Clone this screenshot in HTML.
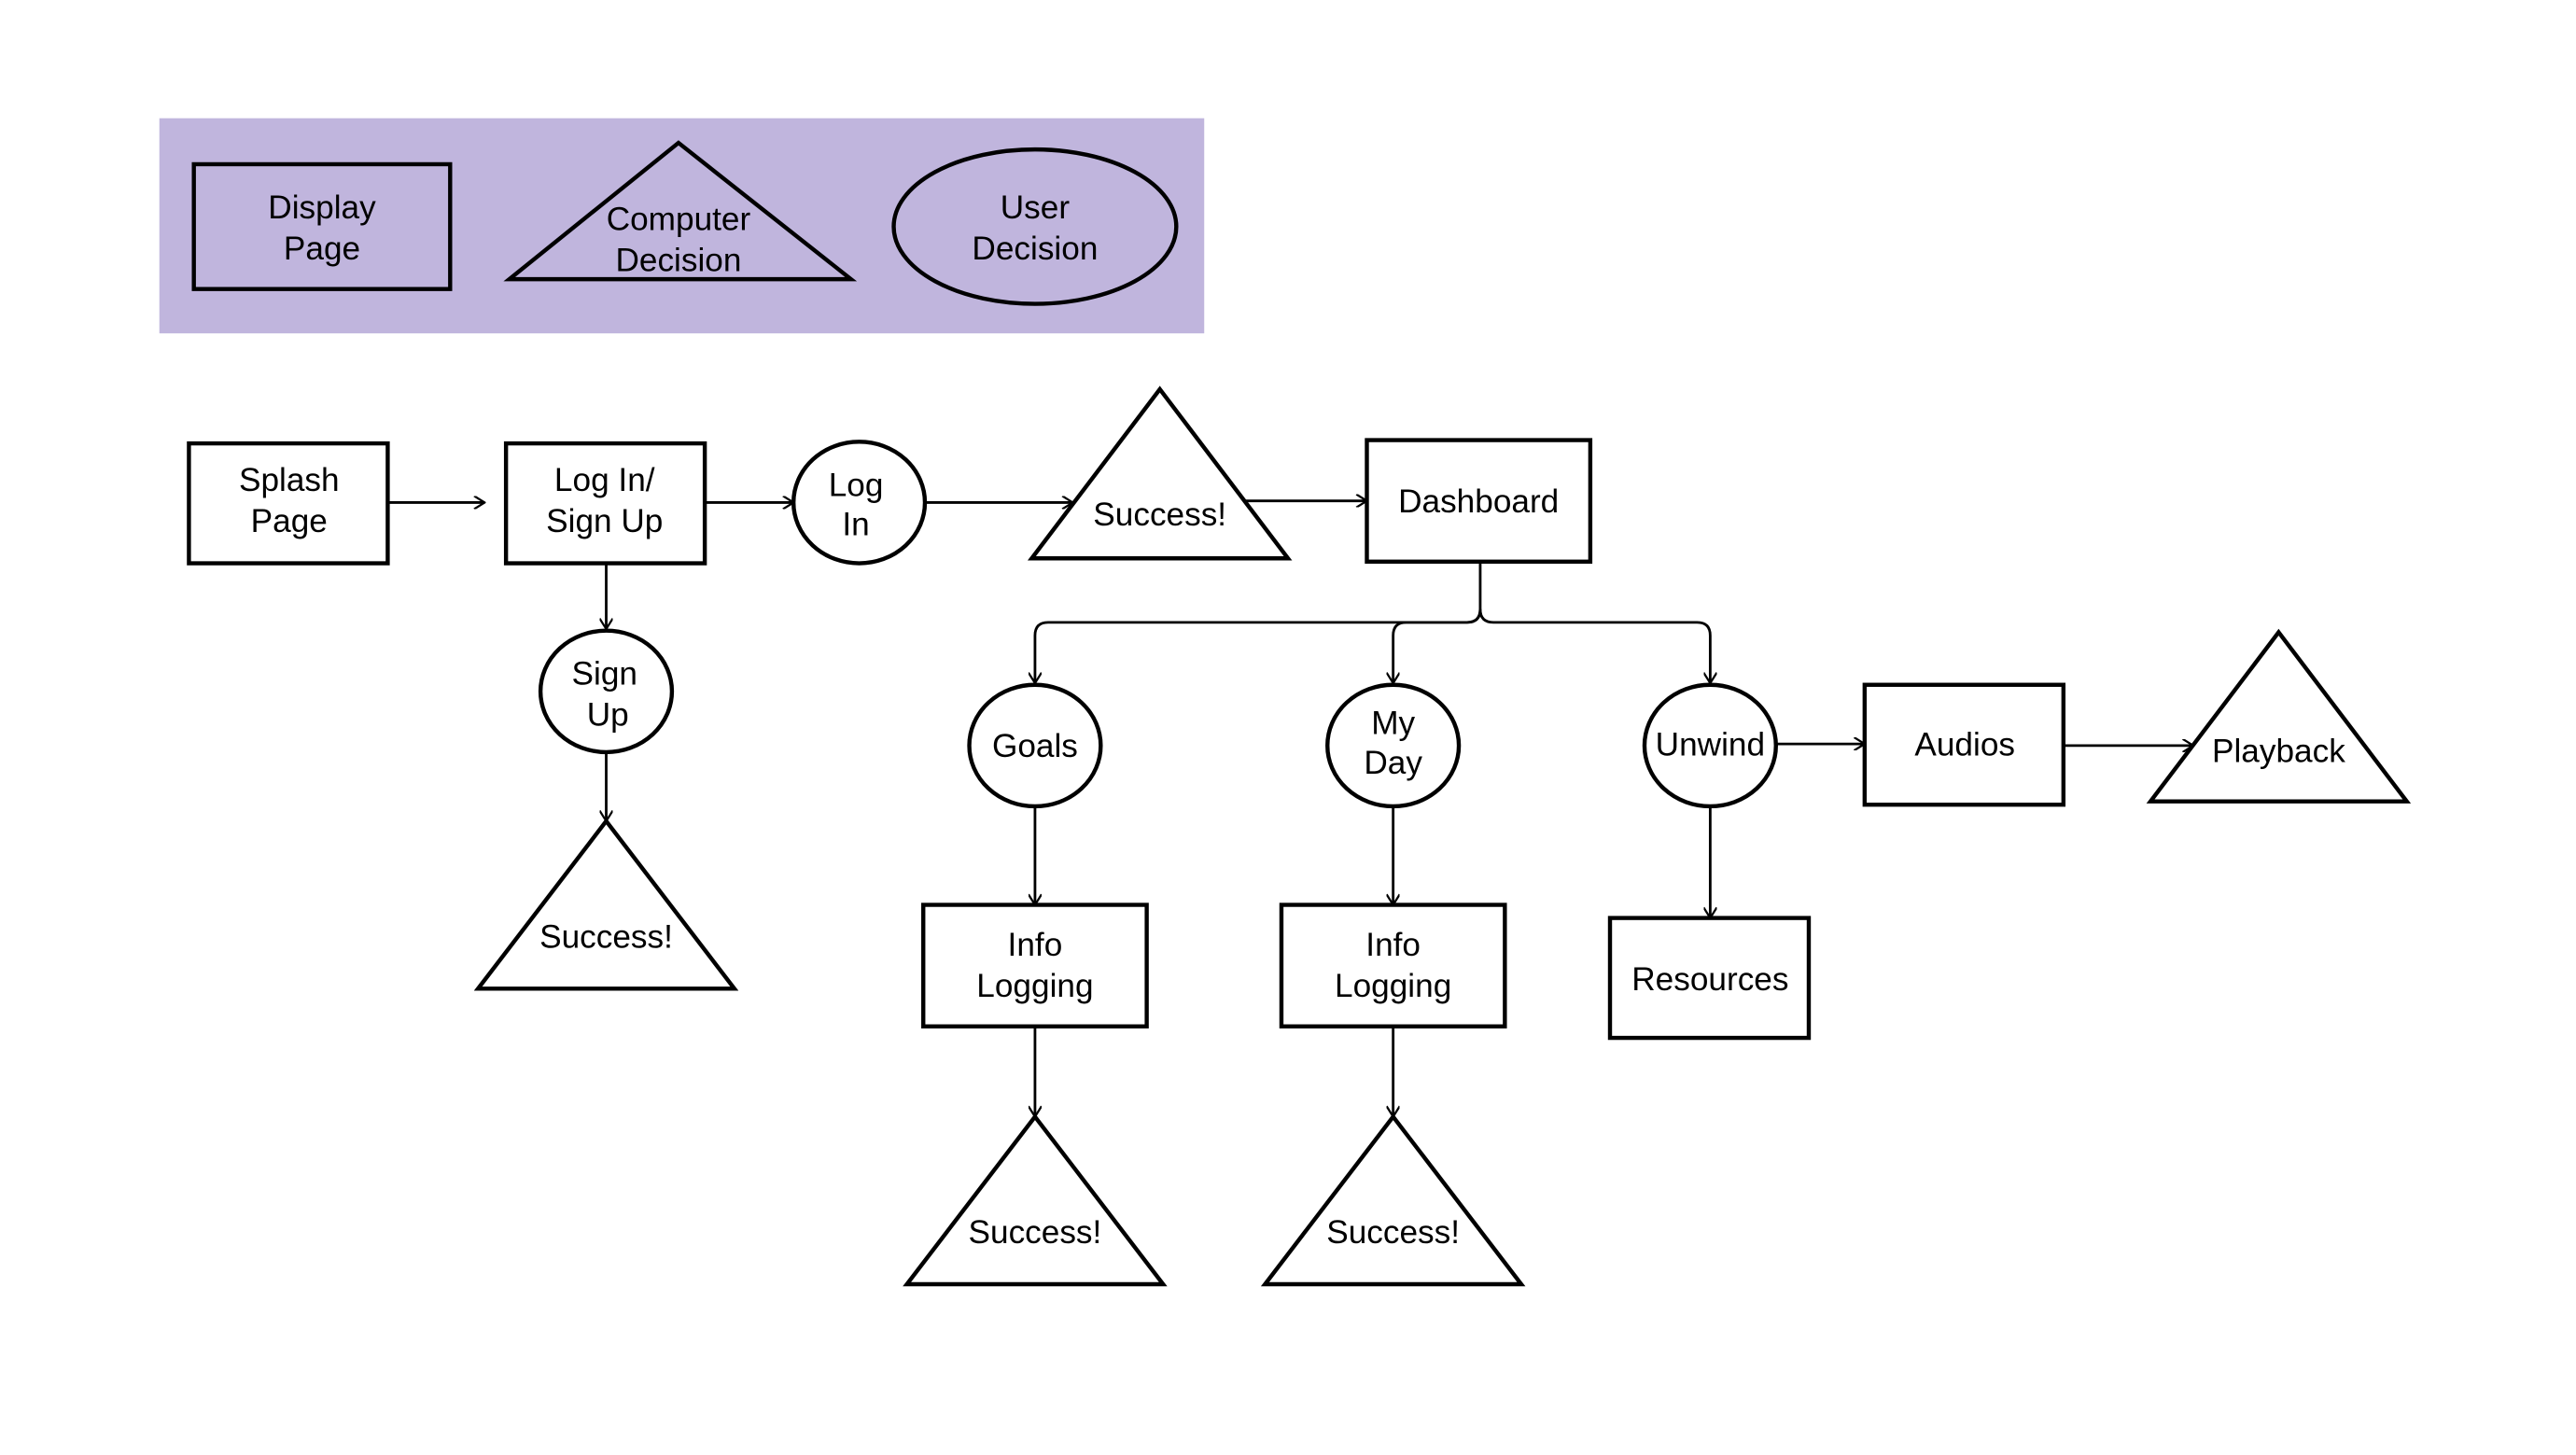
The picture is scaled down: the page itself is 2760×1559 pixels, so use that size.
<!DOCTYPE html>
<html><head><meta charset="utf-8"><style>html,body{margin:0;padding:0;background:#fff}svg{display:block}</style></head>
<body>
<svg width="2760" height="1559" viewBox="0 0 1568 886" preserveAspectRatio="none" xmlns="http://www.w3.org/2000/svg">
<defs><marker id="a" viewBox="0 0 10 10" refX="9" refY="5" markerWidth="8" markerHeight="8" markerUnits="userSpaceOnUse" orient="auto"><path d="M1,0 L9,5 L1,10" fill="none" stroke="#000" stroke-width="1.6"/></marker></defs>
<rect width="1568" height="886" fill="#fff"/>
<rect x="97" y="72" width="636" height="131" fill="#c0b5dd"/>
<g fill="none" stroke="#000" stroke-width="2.5">
<rect x="118" y="100" width="156" height="76"/>
<polygon points="413,87 518,170 310,170"/>
<ellipse cx="630" cy="138" rx="86" ry="47"/>
<rect x="115" y="270" width="121" height="73"/>
<rect x="308" y="270" width="121" height="73"/>
<ellipse cx="523" cy="306" rx="40" ry="37"/>
<polygon points="706,237 784,340 628,340"/>
<rect x="832" y="268" width="136" height="74"/>
<ellipse cx="630" cy="454" rx="40" ry="37"/>
<ellipse cx="848" cy="454" rx="40" ry="37"/>
<ellipse cx="1041" cy="454" rx="40" ry="37"/>
<rect x="562" y="551" width="136" height="74"/>
<rect x="780" y="551" width="136" height="74"/>
<polygon points="630,680 708,782 552,782"/>
<polygon points="848,680 926,782 770,782"/>
<rect x="1135" y="417" width="121" height="73"/>
<polygon points="1387,385 1465,488 1309,488"/>
<rect x="980" y="559" width="121" height="73"/>
<ellipse cx="369" cy="421" rx="40" ry="37"/>
<polygon points="369,500 447,602 291,602"/>
</g>
<g fill="none" stroke="#000" stroke-width="1.6" marker-end="url(#a)">
<path d="M236,306 H295"/>
<path d="M429,306 H483"/>
<path d="M563,306 H653"/>
<path d="M758,305 H832"/>
<path d="M901,342 V371 Q901,379 893,379 H638 Q630,379 630,387 V416"/>
<path d="M901,371 Q901,379 893,379 H856 Q848,379 848,387 V416"/>
<path d="M901,371 Q901,379 909,379 H1033 Q1041,379 1041,387 V416"/>
<path d="M630,491 V551"/>
<path d="M848,491 V551"/>
<path d="M630,625 V680"/>
<path d="M848,625 V680"/>
<path d="M1081,453 H1135"/>
<path d="M1256,454 H1335"/>
<path d="M1041,491 V559"/>
<path d="M369,343 V383"/>
<path d="M369,458 V500"/>
</g>
<g font-family="Liberation Sans, sans-serif" font-size="20" text-anchor="middle" fill="#000">
<text x="196" y="133">Display</text><text x="196" y="158">Page</text>
<text x="413" y="140">Computer</text><text x="413" y="165">Decision</text>
<text x="630" y="133">User</text><text x="630" y="158">Decision</text>
<text x="176" y="299">Splash</text><text x="176" y="324">Page</text>
<text x="368" y="299">Log In/</text><text x="368" y="324">Sign Up</text>
<text x="521" y="302">Log</text><text x="521" y="326">In</text>
<text x="706" y="320">Success!</text>
<text x="900" y="312">Dashboard</text>
<text x="630" y="461">Goals</text>
<text x="848" y="447">My</text><text x="848" y="471">Day</text>
<text x="1041" y="460">Unwind</text>
<text x="630" y="582">Info</text><text x="630" y="607">Logging</text>
<text x="848" y="582">Info</text><text x="848" y="607">Logging</text>
<text x="630" y="757">Success!</text>
<text x="848" y="757">Success!</text>
<text x="1196" y="460">Audios</text>
<text x="1387" y="464">Playback</text>
<text x="1041" y="603">Resources</text>
<text x="368" y="417">Sign</text><text x="370" y="442">Up</text>
<text x="369" y="577">Success!</text>
</g>
</svg>
</body></html>
